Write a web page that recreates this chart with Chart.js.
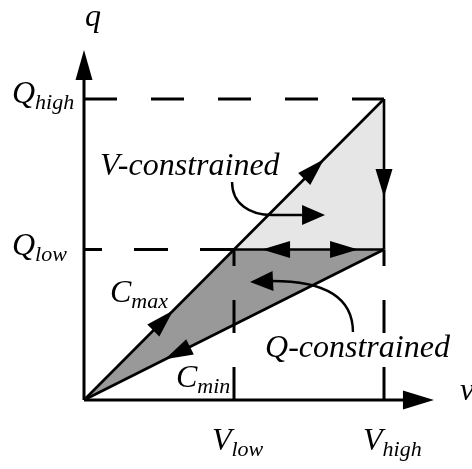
<!DOCTYPE html>
<html>
<head>
<meta charset="utf-8">
<script src="https://cdn.jsdelivr.net/npm/chart.js@4.4.1/dist/chart.umd.min.js"></script>
<style>
  html, body { margin: 0; padding: 0; background: #fff; }
  #chart { display: block; }
</style>
</head>
<body>
<canvas id="chart" width="472" height="469"></canvas>
<script>
// levels on both axes (0, low, high)
const vLevels = [0, 1, 2];
const qLevels = [0, 1, 2];
const vLow = vLevels[1], vHigh = vLevels[2];
const qLow = qLevels[1], qHigh = qLevels[2];

// characteristic lines C_max and C_min from the origin
const cMax = [{ x: 0, y: 0 }, { x: vHigh, y: qHigh }];
const cMin = [{ x: 0, y: 0 }, { x: vHigh, y: qLow }];

// shaded regions
const vRegion = [{ x: vLow, y: qLow }, { x: vHigh, y: qHigh }, { x: vHigh, y: qLow }];
const qRegion = [{ x: 0, y: 0 }, { x: vLow, y: qLow }, { x: vHigh, y: qLow }];

// axis lengths and arrow tips (data units)
const axisEnd = { v: 2.127, q: 2.126 };
const axisTip = { v: 2.333, q: 2.326 };

// arrowheads along segments: from a towards b, tip at fraction t
const lineArrows = [
    { a: [0, 0], b: [vHigh, qHigh], t: 0.297 },
    { a: [0, 0], b: [vHigh, qHigh], t: 0.8 },
    { a: [vHigh, qLow], b: [0, 0], t: 0.73 },
    { a: [vHigh, qLow], b: [vLow, qLow], t: 0.813 },
    { a: [vLow, qLow], b: [vHigh, qLow], t: 0.827 },
    { a: [vHigh, qHigh], b: [vHigh, qLow], t: 0.651 }
];

// curved callouts (cubic + straight lead to arrow tip)
const callouts = [
    { p: [[0.987, 1.449], [0.987, 1.302], [1.107, 1.229], [1.253, 1.229]], end: [1.453, 1.229], tip: [1.607, 1.229] },
    { p: [[1.793, 0.452], [1.793, 0.698], [1.573, 0.791], [1.253, 0.791]], end: [1.253, 0.791], tip: [1.107, 0.784] }
];

// text labels: main text, subscript, anchor (left, baseline)
const labels = [
    { t: 'q', s: '', at: [0.007, 2.485] },
    { t: 'Q', s: 'high', at: [-0.48, 1.973] },
    { t: 'Q', s: 'low', at: [-0.48, 0.963] },
    { t: 'V', s: 'low', at: [0.853, -0.332] },
    { t: 'V', s: 'high', at: [1.86, -0.332] },
    { t: 'v', s: '', at: [2.507, 0] },
    { t: 'C', s: 'max', at: [0.173, 0.651] },
    { t: 'C', s: 'min', at: [0.613, 0.086] },
    { t: 'V-constrained', s: '', at: [0.107, 1.495] },
    { t: 'Q-constrained', s: '', at: [1.207, 0.286] }
];

function seg(data, dash, width, order) {
    return {
        data: data,
        showLine: true,
        borderColor: '#000',
        borderWidth: width || 2.6,
        borderDash: dash || [],
        borderCapStyle: 'butt',
        pointRadius: 0,
        fill: false,
        order: order || 1
    };
}

function region(data, color) {
    return {
        data: data.concat([data[0]]),
        showLine: true,
        borderWidth: 0,
        borderColor: 'rgba(0,0,0,0)',
        backgroundColor: color,
        pointRadius: 0,
        fill: 'shape',
        order: 10
    };
}

const datasets = [
    region(vRegion, '#e6e6e6'),
    region(qRegion, '#999999'),
    seg(cMax),
    seg(cMin),
    seg([{ x: vLow, y: qLow }, { x: vHigh, y: qLow }]),
    seg([{ x: vHigh, y: qLow }, { x: vHigh, y: qHigh }]),
    seg([{ x: 0, y: qHigh }, { x: vHigh, y: qHigh }], [33, 34], 3),
    seg([{ x: vLow, y: qLow }, { x: 0, y: qLow }], [34, 32], 3),
    seg([{ x: vLow, y: 0 }, { x: vLow, y: qLow }], [33, 34], 3),
    seg([{ x: vHigh, y: 0 }, { x: vHigh, y: qLow }], [33, 34], 3),
    seg([{ x: 0, y: 0 }, { x: axisEnd.v, y: 0 }], [], 3),
    seg([{ x: 0, y: 0 }, { x: 0, y: axisEnd.q }], [], 3)
];

function head(ctx, tx, ty, dx, dy, len, hw) {
    const l = Math.hypot(dx, dy);
    const ux = dx / l, uy = dy / l;
    const bx = tx - ux * len, by = ty - uy * len;
    ctx.beginPath();
    ctx.moveTo(tx, ty);
    ctx.lineTo(bx - uy * hw, by + ux * hw);
    ctx.lineTo(bx + uy * hw, by - ux * hw);
    ctx.closePath();
    ctx.fill();
}

const overlay = {
    id: 'overlay',
    afterDatasetsDraw(chart) {
        const ctx = chart.ctx;
        const X = v => chart.scales.x.getPixelForValue(v);
        const Y = q => chart.scales.y.getPixelForValue(q);
        ctx.save();
        ctx.fillStyle = '#000';
        ctx.strokeStyle = '#000';

        // axis arrows
        head(ctx, X(axisTip.v), Y(0), 1, 0, 31, 9.5);
        head(ctx, X(0), Y(axisTip.q), 0, -1, 30, 8.5);

        // arrows on the lines
        lineArrows.forEach(a => {
            const ax = X(a.a[0]), ay = Y(a.a[1]), bx = X(a.b[0]), by = Y(a.b[1]);
            const tx = ax + (bx - ax) * a.t, ty = ay + (by - ay) * a.t;
            head(ctx, tx, ty, bx - ax, by - ay, 28, 8.5);
        });

        // callouts
        ctx.lineWidth = 2.4;
        callouts.forEach(c => {
            const p = c.p.map(pt => [X(pt[0]), Y(pt[1])]);
            ctx.beginPath();
            ctx.moveTo(p[0][0], p[0][1]);
            ctx.bezierCurveTo(p[1][0], p[1][1], p[2][0], p[2][1], p[3][0], p[3][1]);
            ctx.lineTo(X(c.end[0]), Y(c.end[1]));
            ctx.stroke();
            const ex = X(c.end[0]), ey = Y(c.end[1]), tx = X(c.tip[0]), ty = Y(c.tip[1]);
            head(ctx, tx, ty, tx - ex, ty - ey, 23, 10);
        });

        // labels
        ctx.textBaseline = 'alphabetic';
        ctx.textAlign = 'left';
        labels.forEach(l => {
            const x = X(l.at[0]), y = Y(l.at[1]);
            ctx.font = 'italic 32px "Liberation Serif"';
            ctx.fillText(l.t, x, y);
            if (l.s) {
                const w = ctx.measureText(l.t).width;
                ctx.font = 'italic 22px "Liberation Serif"';
                ctx.fillText(l.s, x + w, y + 6);
            }
        });
        ctx.restore();
    }
};

const ctx = document.getElementById('chart').getContext('2d');
const myChart = new Chart(ctx, {
    type: 'scatter',
    data: { datasets: datasets },
    options: {
        responsive: false,
        animation: false,
        layout: { padding: 0 },
        plugins: { legend: { display: false }, tooltip: { enabled: false } },
        scales: {
            x: { type: 'linear', display: false, min: -0.56, max: -0.56 + 472 / 150 },
            y: { type: 'linear', display: false, min: -69 / 150.5, max: 400 / 150.5 }
        }
    },
    plugins: [overlay]
});
</script>
</body>
</html>
